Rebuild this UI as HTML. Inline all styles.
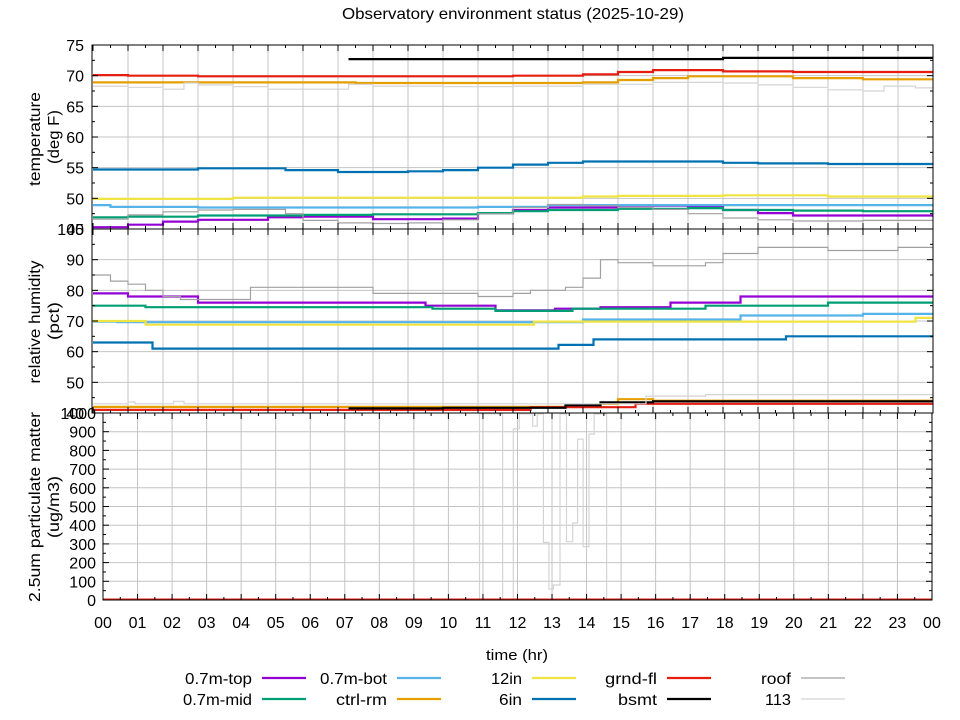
<!DOCTYPE html>
<html><head><meta charset="utf-8"><title>Observatory environment status</title>
<style>
html,body{margin:0;padding:0;background:#fff;}
svg{display:block;font-family:"Liberation Sans",sans-serif;}
</style></head>
<body>
<svg id="chart" width="960" height="720" viewBox="0 0 960 720" xmlns="http://www.w3.org/2000/svg">
<defs>
<clipPath id="clipTop"><rect x="92" y="45" width="841" height="184"/></clipPath>
<clipPath id="clipMid"><rect x="92" y="229" width="841" height="184"/></clipPath>
<clipPath id="clipBot"><rect x="103" y="413" width="829" height="187"/></clipPath>
</defs>
<text x="513" y="19" font-size="16" text-anchor="middle" textLength="342" lengthAdjust="spacingAndGlyphs">Observatory environment status (2025-10-29)</text>
<g id="grid"></g>
<g id="series"></g>
<g id="axes"></g>
<text transform="translate(40,139) rotate(-90)" font-size="16" text-anchor="middle" textLength="94" lengthAdjust="spacingAndGlyphs">temperature</text>
<text transform="translate(59,137) rotate(-90)" font-size="16" text-anchor="middle" textLength="54" lengthAdjust="spacingAndGlyphs">(deg F)</text>
<text transform="translate(40,322) rotate(-90)" font-size="16" text-anchor="middle" textLength="123" lengthAdjust="spacingAndGlyphs">relative humidity</text>
<text transform="translate(59,321) rotate(-90)" font-size="16" text-anchor="middle" textLength="38" lengthAdjust="spacingAndGlyphs">(pct)</text>
<text transform="translate(40,507) rotate(-90)" font-size="16" text-anchor="middle" textLength="190" lengthAdjust="spacingAndGlyphs">2.5um particulate matter</text>
<text transform="translate(59,507) rotate(-90)" font-size="16" text-anchor="middle" textLength="62" lengthAdjust="spacingAndGlyphs">(ug/m3)</text>
<text x="517" y="660" font-size="15" text-anchor="middle" textLength="62" lengthAdjust="spacingAndGlyphs">time (hr)</text>
<g id="legend"></g>
</svg>
<script>
// ---- data ----
const hourLabels = ["00","01","02","03","04","05","06","07","08","09","10","11","12","13","14","15","16","17","18","19","20","21","22","23","00"];
const tempTicks = [45,50,55,60,65,70,75];
const humTicks = [40,50,60,70,80,90,100];
const pmTicks = [0,100,200,300,400,500,600,700,800,900,1000];
const seriesNames = ["0.7m-top","0.7m-mid","0.7m-bot","ctrl-rm","12in","6in","grnd-fl","bsmt","roof","113"];
const seriesColors = ["#9400d3","#009e73","#56b4e9","#e69f00","#f0e442","#0072b2","#e51e10","#000000","#a0a0a0","#d4d4d4"];
const legendWidths = [67,69,67,51,31,23,52,39,30,26];

// temperature (deg F)
const tTopT = [0,1,2,3,5,6,8,10,11,12,13,15,17,18,19,20,24];
const tTopV = [45.3,45.7,46.2,46.5,46.9,47.0,46.6,46.7,47.6,48.1,48.5,48.8,48.7,48.1,47.6,47.2,47.0];
const tMidT = [0,1,3,6,8,10,11,12,13,15,17,18,20,22,24];
const tMidV = [46.9,47.0,47.2,47.3,47.4,47.4,47.6,47.9,48.1,48.3,48.4,48.1,48.0,47.9,47.8];
const tBotT = [0,0.5,3,11,13,24];
const tBotV = [48.9,48.6,48.5,48.6,48.9,49.0];
const tCtrlT = [0,7.5,14,15,16,17,18,20,22,24];
const tCtrlV = [68.9,68.8,68.9,69.3,69.6,69.9,69.9,69.6,69.4,69.4];
const t12T = [0,4,9,14,15,18,21,24];
const t12V = [49.9,50.1,50.1,50.3,50.4,50.5,50.3,50.3];
const t6T = [0,3,5.5,7,9,10,11,12,13,14,17,18,19,21,24];
const t6V = [54.7,54.9,54.6,54.3,54.4,54.6,55.0,55.5,55.8,56.0,56.0,55.8,55.7,55.6,55.6];
const tGrndT = [0,1,3,8,12,14,15,16,17,18,20,24];
const tGrndV = [70.1,70.0,69.9,69.9,70.0,70.2,70.6,70.9,70.9,70.7,70.6,70.5];
const tBsmtT = [7.3,12,18,24];
const tBsmtV = [72.7,72.7,72.9,72.9];
const tRoofT = [0,1,2,3,4,5,5.5,6,7,8,9,10,11,12,13,14,15,16,17,18,19,20,22,24];
const tRoofV = [46.6,47.3,47.8,48.1,48.2,48.2,47.5,46.4,46.0,45.9,46.0,46.5,47.5,48.5,49.0,48.8,48.5,48.2,47.5,46.8,46.5,46.3,46.4,46.4];
const t113T = [0,1,2,2.6,3,4,5,7,7.3,8,10,12,14,16,17,18,19,20,21,22,22.6,23.5,24];
const t113V = [68.3,68.1,67.8,68.8,68.5,68.2,67.8,67.8,68.6,68.3,68.2,68.3,68.6,68.9,68.9,68.8,68.5,68.1,67.7,67.5,68.3,68.0,67.9];

// relative humidity (pct)
const hTopT = [0,1,3,9.5,11.5,13.2,14.5,16.5,18.5,24];
const hTopV = [79,78,76,75,73.5,74,74.5,76,78,78];
const hMidT = [0,1.5,9.7,11.5,13.7,17.5,21,24];
const hMidV = [75,74.5,74,73.3,74,75,76,76];
const hBotT = [0,0.7,14,18.5,22,24];
const hBotV = [69.8,69.6,70.5,71.8,72.3,72.3];
const hCtrlT = [0,12,13.5,14.5,15,16,24];
const hCtrlV = [42,42,42.3,43,44.5,44,43.8];
const h12T = [0,1.5,12.6,23.5,24];
const h12V = [70,68.8,69.8,71,71];
const h6T = [0,1.7,13.3,14.3,19.8,24];
const h6V = [63,61,62.2,64,65,65];
const hGrndT = [0,12.5,15.5,24];
const hGrndV = [41,41.9,43,43];
const hBsmtT = [7.3,10,13.5,14.5,16,24];
const hBsmtV = [41.5,41.7,42.5,43.5,43.8,43.8];
const hRoofT = [0,0.5,1,1.5,2,2.5,4,4.5,6,8,9,10,11,12,12.5,13,13.5,14,14.5,15,16,17,17.5,18,19,20,21,22,23,24];
const hRoofV = [85,83,82,80,78,77,77,81,81,79,79,79,78,79,80,80,81,84,90,89,88,88,89,92,94,94,93,93,94,93];
const h113T = [0,1,1.2,2.3,2.6,15,15.8,17.5,24];
const h113V = [43,43.6,43,43.8,43,43,45.5,46,46];

// particulate matter (ug/m3)
const pGrndT = [0,24];
const pGrndV = [2,2];
const pRoofT = [0,10.9,11.57,11.88,12.05,12.44,12.57,12.75,12.91,13.04,13.23,13.42,13.6,13.74,13.9,14.07,14.22,14.58,24];
const pRoofV = [0,995,0,915,995,930,995,308,59,80,995,312,412,860,285,887,995,0,0];

// ---- scales ----
const xTop = h => 93 + h*35;
const xBot = h => 103 + h*34.54;
const yTemp = v => 45 + (75 - v) * (184/30);
const yHum = v => 229 + (100 - v) * (184/60);
const yPm = v => 600 - v * (187/1000);

const NS = "http://www.w3.org/2000/svg";
function mk(tag, attrs, parent){
  const e = document.createElementNS(NS, tag);
  for (const k in attrs) e.setAttribute(k, attrs[k]);
  parent.appendChild(e);
  return e;
}
const grid = document.getElementById("grid");
const axes = document.getElementById("axes");
const series = document.getElementById("series");
const legend = document.getElementById("legend");

function panelGrid(x0,x1,y0,y1,xs,yTicksArr,ys,name){
  for (let h=1; h<24; h++){
    const l = mk("line",{x1:xs(h),x2:xs(h),y1:y0,y2:y1,stroke:"#c4c4c4","stroke-width":1},grid);
    
    
  }
  yTicksArr.forEach(v=>{
    const y = ys(v);
    if (y<=y0+0.5 || y>=y1-0.5) return;
    const l = mk("line",{x1:x0,x2:x1,y1:y,y2:y,stroke:"#c4c4c4","stroke-width":1},grid);
    
    
  });
}
function panelAxes(x0,x1,y0,y1,xs,yTicksArr,ys,labelX,name){
  const r = mk("rect",{x:x0,y:y0,width:x1-x0,height:y1-y0,fill:"none",stroke:"#000","stroke-width":1},axes);
  
  
  for (let h=0; h<=24; h+=0.5){
    const x = xs(h), len = (h%1===0)?6:3;
    mk("line",{x1:x,x2:x,y1:y1,y2:y1-len,stroke:"#000"},axes);
    mk("line",{x1:x,x2:x,y1:y0,y2:y0+len,stroke:"#000"},axes);
  }
  const step = yTicksArr[1]-yTicksArr[0];
  for (let i=0;i<yTicksArr.length;i++){
    const v = yTicksArr[i], y = ys(v);
    mk("line",{x1:x0,x2:x0+6,y1:y,y2:y,stroke:"#000"},axes);
    mk("line",{x1:x1,x2:x1-6,y1:y,y2:y,stroke:"#000"},axes);
    if (i<yTicksArr.length-1){
      const ym = ys(v+step/2);
      mk("line",{x1:x0,x2:x0+3,y1:ym,y2:ym,stroke:"#000"},axes);
      mk("line",{x1:x1,x2:x1-3,y1:ym,y2:ym,stroke:"#000"},axes);
    }
    const t = mk("text",{x:labelX,y:y+6,"font-size":16,"text-anchor":"end"},axes);
    t.textContent = String(v);
    
    
  }
}
panelGrid(92,933,45,229,xTop,tempTicks,yTemp,"temperature");
panelGrid(92,933,229,413,xTop,humTicks,yHum,"humidity");
panelGrid(103,932,413,600,xBot,pmTicks,yPm,"pm");

function stepPath(ts,vs,xs,ys){
  let d = "M"+xs(ts[0]).toFixed(1)+" "+ys(vs[0]).toFixed(1);
  for (let i=1;i<ts.length;i++){
    d += " H"+xs(ts[i]).toFixed(1)+" V"+ys(vs[i]).toFixed(1);
  }
  return d;
}
function drawSeries(ts,vs,xs,ys,idx,clip,name){
  const thin = idx>=8;
  const p = mk("path",{d:stepPath(ts,vs,xs,ys),fill:"none",stroke:seriesColors[idx],"stroke-width":thin?1.2:2.2,"clip-path":"url(#"+clip+")","stroke-linejoin":"miter"},series);
  
  
}
// temperature
drawSeries(tTopT,tTopV,xTop,yTemp,0,"clipTop","temp-0.7m-top-line");
drawSeries(tMidT,tMidV,xTop,yTemp,1,"clipTop","temp-0.7m-mid-line");
drawSeries(tBotT,tBotV,xTop,yTemp,2,"clipTop","temp-0.7m-bot-line");
drawSeries(tCtrlT,tCtrlV,xTop,yTemp,3,"clipTop","temp-ctrl-rm-line");
drawSeries(t12T,t12V,xTop,yTemp,4,"clipTop","temp-12in-line");
drawSeries(t6T,t6V,xTop,yTemp,5,"clipTop","temp-6in-line");
drawSeries(tGrndT,tGrndV,xTop,yTemp,6,"clipTop","temp-grnd-fl-line");
drawSeries(tBsmtT,tBsmtV,xTop,yTemp,7,"clipTop","temp-bsmt-line");
drawSeries(tRoofT,tRoofV,xTop,yTemp,8,"clipTop","temp-roof-line");
drawSeries(t113T,t113V,xTop,yTemp,9,"clipTop","temp-113-line");
// humidity
drawSeries(hTopT,hTopV,xTop,yHum,0,"clipMid","hum-0.7m-top-line");
drawSeries(hMidT,hMidV,xTop,yHum,1,"clipMid","hum-0.7m-mid-line");
drawSeries(hBotT,hBotV,xTop,yHum,2,"clipMid","hum-0.7m-bot-line");
drawSeries(hCtrlT,hCtrlV,xTop,yHum,3,"clipMid","hum-ctrl-rm-line");
drawSeries(h12T,h12V,xTop,yHum,4,"clipMid","hum-12in-line");
drawSeries(h6T,h6V,xTop,yHum,5,"clipMid","hum-6in-line");
drawSeries(hGrndT,hGrndV,xTop,yHum,6,"clipMid","hum-grnd-fl-line");
drawSeries(hBsmtT,hBsmtV,xTop,yHum,7,"clipMid","hum-bsmt-line");
drawSeries(hRoofT,hRoofV,xTop,yHum,8,"clipMid","hum-roof-line");
drawSeries(h113T,h113V,xTop,yHum,9,"clipMid","hum-113-line");
// particulate
drawSeries(pRoofT,pRoofV,xBot,yPm,9,"clipBot","pm-roof-line");
drawSeries(pGrndT,pGrndV,xBot,yPm,6,"clipBot","pm-grnd-fl-line");

panelAxes(92,933,45,229,xTop,tempTicks,yTemp,84,"temperature");
panelAxes(92,933,229,413,xTop,humTicks,yHum,84,"humidity");
panelAxes(103,932,413,600,xBot,pmTicks,yPm,96,"pm");

hourLabels.forEach((lab,h)=>{
  const t = mk("text",{x:xBot(h),y:628,"font-size":16,"text-anchor":"middle"},axes);
  t.textContent = lab;
  
  
});

// legend
const legTextX = [252,387,522,657,791];
const legRowY = [678,699];
seriesNames.forEach((nm,i)=>{
  const col = Math.floor(i/2), row = i%2;
  const g = mk("g",{},legend);
  
  
  const t = mk("text",{x:legTextX[col]-legendWidths[i],y:legRowY[row]+6,"font-size":16,"text-anchor":"start",textLength:legendWidths[i],lengthAdjust:"spacingAndGlyphs"},g);
  t.textContent = nm;
  mk("line",{x1:legTextX[col]+10,x2:legTextX[col]+54,y1:legRowY[row],y2:legRowY[row],stroke:seriesColors[i],"stroke-width":i>=8?1.2:2.2},g);
});
</script>
</body></html>
